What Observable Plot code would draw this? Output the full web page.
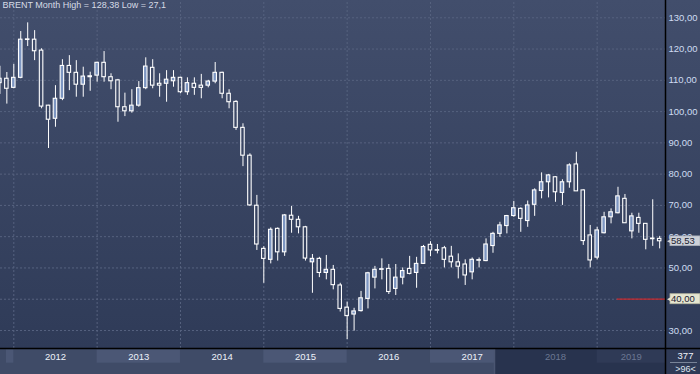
<!DOCTYPE html>
<html><head><meta charset="utf-8">
<script src="https://cdn.jsdelivr.net/npm/d3@7"></script>
<script src="https://cdn.jsdelivr.net/npm/@observablehq/plot@0.6"></script>
<style>html,body{margin:0;padding:0;background:#3f4b67;overflow:hidden}</style>
</head><body><div id="chart"></div>
<script>
// ---- data (monthly Brent candles, Nov 2011 .. Oct 2019) ----
const months = [
 "2011-11","2011-12",
 "2012-01","2012-02","2012-03","2012-04","2012-05","2012-06","2012-07","2012-08","2012-09","2012-10","2012-11","2012-12",
 "2013-01","2013-02","2013-03","2013-04","2013-05","2013-06","2013-07","2013-08","2013-09","2013-10","2013-11","2013-12",
 "2014-01","2014-02","2014-03","2014-04","2014-05","2014-06","2014-07","2014-08","2014-09","2014-10","2014-11","2014-12",
 "2015-01","2015-02","2015-03","2015-04","2015-05","2015-06","2015-07","2015-08","2015-09","2015-10","2015-11","2015-12",
 "2016-01","2016-02","2016-03","2016-04","2016-05","2016-06","2016-07","2016-08","2016-09","2016-10","2016-11","2016-12",
 "2017-01","2017-02","2017-03","2017-04","2017-05","2017-06","2017-07","2017-08","2017-09","2017-10","2017-11","2017-12",
 "2018-01","2018-02","2018-03","2018-04","2018-05","2018-06","2018-07","2018-08","2018-09","2018-10","2018-11","2018-12",
 "2019-01","2019-02","2019-03","2019-04","2019-05","2019-06","2019-07","2019-08","2019-09","2019-10"];
const open = [
 109.1,110.5,
 107.6,110.8,123.1,123.0,119.5,101.9,97.7,104.1,114.6,112.4,108.6,111.3,
 111.5,115.6,111.0,110.0,101.4,100.1,101.9,107.5,114.0,108.9,108.9,109.7,
 110.8,106.2,108.9,108.3,108.3,109.6,112.4,105.7,103.1,94.8,85.9,69.9,
 56.1,52.6,62.5,55.0,66.7,65.4,63.0,51.8,52.9,48.4,49.4,44.4,
 37.3,35.1,36.2,40.1,46.9,49.4,49.7,43.3,46.9,49.7,48.4,51.3,
 57.4,55.7,56.3,53.6,51.8,51.1,48.6,52.5,52.2,57.0,60.9,63.4,
 66.6,68.9,65.0,70.2,74.6,77.4,79.0,74.0,77.4,83.1,74.8,60.4,
 53.3,61.1,66.2,67.5,72.1,61.7,66.0,64.1,59.4,59.3];
const high = [
 114.5,112.5,
 115.1,125.6,128.38,125.9,120.1,102.0,108.3,116.6,117.9,116.3,114.2,112.6,
 115.8,119.2,112.1,110.3,105.9,107.0,109.6,117.2,116.6,112.1,113.1,113.1,
 111.0,110.8,110.8,111.9,110.0,115.7,112.6,107.0,103.5,96.1,86.5,73.2,
 56.8,62.8,62.8,67.1,69.7,66.5,63.3,54.3,53.4,54.0,50.8,45.1,
 39.1,37.1,42.5,48.6,50.5,52.9,51.1,51.1,50.0,53.7,53.4,57.2,
 58.4,57.5,56.9,56.9,54.5,52.6,53.2,53.2,59.3,61.4,64.6,66.8,
 71.3,69.2,71.4,75.3,80.4,79.9,79.2,78.2,83.3,87.0,75.0,63.6,
 63.0,67.8,68.9,75.8,73.5,67.5,67.5,64.1,71.8,60.1];
const low = [
 105.5,102.4,
 107.3,110.5,120.8,116.3,100.9,88.2,95.0,103.5,106.7,104.6,104.6,106.5,
 109.4,109.4,107.0,96.6,98.4,99.5,101.4,107.0,107.3,104.6,103.0,107.8,
 105.7,105.2,105.2,104.1,107.6,108.9,104.1,100.9,94.0,82.4,69.7,55.6,
 45.1,51.3,52.2,53.7,61.1,60.9,52.2,41.9,46.9,46.2,43.0,35.9,
 27.1,29.8,35.9,36.9,43.3,46.2,41.5,41.2,44.6,47.8,43.5,51.1,
 53.6,54.5,50.0,50.0,46.5,44.4,46.2,50.0,52.0,54.7,59.8,60.9,
 66.2,61.4,63.0,66.5,72.1,72.4,71.0,70.0,75.5,74.5,57.2,50.0,
 52.6,60.9,64.1,67.3,64.3,59.3,61.1,55.8,56.9,56.1];
const close = [
 110.5,107.3,
 110.8,123.0,122.9,119.3,101.6,97.4,104.1,114.6,112.4,108.6,111.2,111.0,
 115.6,111.0,109.7,101.4,100.1,101.9,107.5,114.4,108.3,108.3,110.2,110.8,
 106.2,109.1,107.6,107.6,109.6,112.4,105.7,103.0,94.8,85.9,70.0,57.5,
 52.9,62.2,55.0,66.8,65.4,63.0,53.0,52.9,48.4,49.4,44.5,36.9,
 34.6,36.1,40.3,48.3,49.4,49.6,42.3,46.9,49.0,48.1,51.3,56.7,
 55.6,55.5,52.6,51.8,50.4,47.6,52.6,52.3,57.5,60.9,63.6,66.6,
 69.1,65.7,70.0,74.8,77.4,79.6,74.2,77.4,82.8,74.5,58.6,52.4,
 62.0,66.2,67.8,72.9,64.3,66.5,64.1,59.0,59.2,58.53];
const years = ["2011","2012","2013","2014","2015","2016","2017","2018","2019"];
const yTicks = [30,40,50,60,70,80,90,100,110,120,130];
const lastPrice = 58.53;
const alertLevel = 40;
const titleText = "BRENT Month High = 128,38 Low = 27,1";
const barsTotal = "377";
const barsVisible = ">96<";

// ---- layout ----
const W = 700, H = 374, mR = 35, mB = 26;
const X = d3.scaleLinear([0.085, 95.84], [0, W - mR]);
const Y = d3.scaleLinear([24.24, 135.53], [H - mB, 0]);
const px = v => X.invert(v), py = v => Y.invert(v);
const xMin = X.domain()[0], xMax = X.domain()[1];
const fmt = v => v.toFixed(2).replace(".", ",");

const data = months.map((m, i) => ({
  i, m, o: open[i], h: high[i], l: low[i], c: close[i],
  up: close[i] >= open[i],
  top: Math.max(open[i], close[i]), bot: Math.min(open[i], close[i])
}));
const janIdx = years.map(y => months.indexOf(y + "-01")).filter(j => j >= 0);

const navStart = px(494);
const bands = years.map((yr, k) => {
  const j = months.indexOf(yr + "-01");
  const nj = months.indexOf((+yr + 1) + "-01");
  const start = j < 0 ? px(6) : j;
  const end = nj < 0 ? xMax : nj;
  return {yr, start, end, mid: (start + end) / 2, shade: k % 2 === 0, dim: (start + end) / 2 > navStart};
});

const gridC = "#56627f";
const upFill = "#7d96c2";
// the alert badge replaces the axis label at its level
const axisTicks = yTicks.filter(t => t !== alertLevel);

const chart = Plot.plot({
  width: W, height: H,
  marginTop: 0, marginLeft: 0, marginRight: mR, marginBottom: mB,
  style: {
    background: "linear-gradient(to bottom, #424e6c 0px, #2f3b58 348px, #3f4b67 348px, #3f4b67 374px)",
    fontFamily: "'Liberation Sans', Arial, sans-serif",
    overflow: "hidden"
  },
  x: {domain: X.domain(), range: X.range(), axis: null},
  y: {domain: Y.domain(), range: Y.range(), axis: null},
  marks: [
    // grid
    Plot.ruleY(yTicks, {x1: xMin, x2: xMax, stroke: gridC, strokeDasharray: "2,2"}),
    Plot.ruleX(janIdx, {y1: Y.domain()[0], y2: Y.domain()[1], stroke: gridC, strokeDasharray: "2,2"}),
    // alert line
    Plot.ruleY([alertLevel], {x1: px(616.7), x2: xMax, stroke: "#c8282c", strokeWidth: 1.2}),
    // wicks
    Plot.ruleX(data, {x: "i", y1: "h", y2: "top", stroke: "white", strokeWidth: 1}),
    Plot.ruleX(data, {x: "i", y1: "bot", y2: "l", stroke: "white", strokeWidth: 1}),
    // bodies
    Plot.rect(data.filter(d => d.up), {x1: d => d.i - 0.25, x2: d => d.i + 0.25, y1: "o", y2: "c", fill: upFill, stroke: "white", strokeWidth: 1.1}),
    Plot.rect(data.filter(d => !d.up), {x1: d => d.i - 0.25, x2: d => d.i + 0.25, y1: "o", y2: "c", fill: "none", stroke: "white", strokeWidth: 1.1}),
    // title
    Plot.text([titleText], {frameAnchor: "top-left", dx: 2, dy: 1, textAnchor: "start", lineAnchor: "top", fill: "#d6dbe6", fontSize: 9}),
    // bottom band boxes
    Plot.rect(bands.filter(b => b.shade), {x1: "start", x2: "end", y1: py(349.3), y2: py(362.7), fill: "#4b5775"}),
    Plot.rect([0], {x1: navStart, x2: xMax, y1: py(348), y2: py(374), fill: "#28334e"}),
    Plot.ruleX([navStart], {y1: py(349), y2: py(374), stroke: "#4a5571", strokeWidth: 1.5}),
    Plot.rect(bands.filter(b => b.shade && b.start >= navStart), {x1: "start", x2: "end", y1: py(349.3), y2: py(362.7), fill: "#2f3a56"}),
    Plot.rect([0], {x1: xMax, x2: px(700), y1: py(348), y2: py(374), fill: "#2f3a56"}),
    Plot.text(bands.filter(b => b.yr !== "2011"), {x: "mid", y: py(356.5), text: "yr", fill: b => b.dim ? "#6b7792" : "#eef2fa", fontSize: 9.5}),
    // frame lines
    Plot.ruleY([Y.domain()[0]], {x1: xMin, x2: px(700), stroke: "black", strokeWidth: 1.5}),
    Plot.ruleX([xMax], {y1: py(374), y2: py(0), stroke: "black", strokeWidth: 1.5}),
    // right axis labels
    Plot.text(axisTicks, {x: xMax, y: d => d, text: fmt, dx: 3, textAnchor: "start", fill: "#cfdcf2", fontSize: 9.5}),
    // badges
    Plot.rect([lastPrice], {x1: px(670), x2: px(700), y1: d => d - 1.55, y2: d => d + 1.55, fill: "#ccd0d8", stroke: "#a9afba", strokeWidth: 0.8}),
    Plot.dot([lastPrice], {x: px(671.2), y: d => d, symbol: "triangle", r: 3, rotate: -90, fill: "#ccd0d8"}),
    Plot.text([lastPrice], {x: px(670.5), y: d => d, text: fmt, textAnchor: "start", fill: "#1c2230", fontSize: 9.5}),
    Plot.rect([alertLevel], {x1: px(670), x2: px(700), y1: d => d - 1.6, y2: d => d + 1.6, fill: "#e5e5d0", stroke: "#b5b59f", strokeWidth: 0.8}),
    Plot.dot([alertLevel], {x: px(671.2), y: d => d, symbol: "triangle", r: 3, rotate: -90, fill: "#e5e5d0"}),
    Plot.text([alertLevel], {x: px(670.5), y: d => d, text: fmt, textAnchor: "start", fill: "#1c2230", fontSize: 9.5}),
    // bar counters
    Plot.text([barsTotal], {x: px(685), y: py(355.5), text: d => d, fill: "#eef2fa", fontSize: 9.5}),
    Plot.ruleY([py(362)], {x1: px(670), x2: px(697), stroke: "#8b95aa", strokeWidth: 0.8}),
    Plot.text([barsVisible], {x: px(685), y: py(368.5), text: d => d, fill: "#dfe5f0", fontSize: 9})
  ]
});
document.getElementById("chart").appendChild(chart);
</script>
</body></html>
